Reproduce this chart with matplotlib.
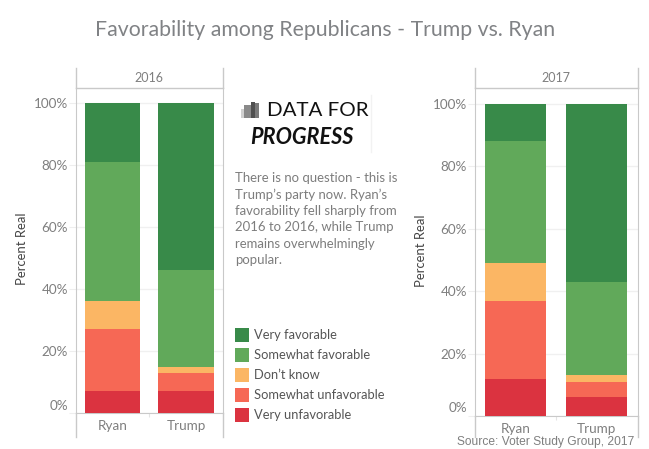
import matplotlib
matplotlib.use('Agg')
import matplotlib.pyplot as plt
from matplotlib.lines import Line2D
from matplotlib.patches import Rectangle
from matplotlib.transforms import ScaledTranslation

W, H = 649, 449

# data, percent of respondents (bottom to top of the stack)
candidates = ['Ryan', 'Trump']
very_unfav = {'2016': [7, 7], '2017': [12, 6]}
somewhat_unfav = {'2016': [20, 6], '2017': [25, 5]}
dont_know = {'2016': [9, 2], '2017': [12, 2]}
somewhat_fav = {'2016': [45, 31], '2017': [39, 30]}
very_fav = {'2016': [19, 54], '2017': [12, 57]}

series = [very_unfav, somewhat_unfav, dont_know, somewhat_fav, very_fav]
colors = ['#db3340', '#f66855', '#fbb664', '#61a95a', '#388a49']
labels = ['Very unfavorable', 'Somewhat unfavorable', "Don\u2019t know",
          'Somewhat favorable', 'Very favorable']
yticks = [0, 20, 40, 60, 80, 100]

note_lines = ['There is no question - this is', 'Trump\u2019s party now. Ryan\u2019s',
              'favorability fell sharply from', '2016 to 2016, while Trump',
              'remains overwhelmingly', 'popular.']

plt.rcParams['font.family'] = ['Lato', 'DejaVu Sans']
GREY = '#7f7f7f'
LINE = '#c9c9c9'

fig = plt.figure(figsize=(W / 100, H / 100), dpi=100)


def fx(x):
    return x / W


def fy(y):
    return 1 - y / H


def px(size):
    return size * 0.72


def ftext(x, y, s, size, color=GREY, **kw):
    kw.setdefault('va', 'center')
    fig.text(fx(x), fy(y), s, fontsize=px(size), color=color, **kw)


def fline(x0, y0, x1, y1, color=LINE, lw=1.0):
    fig.add_artist(Line2D([fx(x0), fx(x1)], [fy(y0), fy(y1)], color=color, lw=lw))


def panel(year, left, right, y100, y0, ylab_x, ylab_y):
    top = 88
    ax = fig.add_axes([fx(left), fy(y0), fx(right - left), (y0 - top) / H])
    ax.set_xlim(-0.5, 1.5)
    ax.set_ylim(0, 100 * (y0 - top) / (y0 - y100))
    bottom = [0, 0]
    for s, c in zip(series, colors):
        ax.bar([0, 1], s[year], width=0.75, bottom=bottom, color=c, zorder=3)
        bottom = [b + v for b, v in zip(bottom, s[year])]
    ax.set_yticks(yticks)
    ax.set_yticklabels([f'{t}%' for t in yticks], fontsize=px(13.5), color=GREY)
    ax.set_xticks([0.5])
    ax.set_xticklabels([])
    ax.tick_params(axis='x', length=3, color='#e4e4e4', width=0.8)
    ax.tick_params(axis='y', length=5, color='#eeeeee', width=0.8, pad=0.5)
    # the 0% label sits above its tick in the original
    lab0 = ax.get_yticklabels()[0]
    lab0.set_transform(lab0.get_transform() + ScaledTranslation(0, 8.5 / 100, fig.dpi_scale_trans))
    ax.grid(axis='y', color='#f0f0f0', lw=1, zorder=0)
    ax.set_axisbelow(True)
    ax.spines['top'].set_visible(False)
    ax.spines['right'].set_color(LINE)
    ax.spines['left'].set_color(LINE)
    ax.spines['bottom'].set_color(LINE)
    for x, name in zip([0, 1], candidates):
        ax.text(x, -13 / ((y0 - y100) / 100), name, ha='center', va='center',
                fontsize=px(13.5), color=GREY, clip_on=False)
    # facet header and the frame below the axis
    fline(left, 68, left, 88)
    fline(right, 68, right, 88)
    fline(left, 88, right, 88)
    fline(left, y0, left, 437)
    fline(right, y0, right, 437)
    ftext((left + right) / 2, 78.5, year, 12.5, ha='center')
    ftext(ylab_x, ylab_y, 'Percent Real', 13, color='#444444', rotation=90, ha='center')


panel('2016', 75.5, 223, 103, 413, 22, 248.5)
panel('2017', 474.5, 637.5, 104, 416, 421, 250.5)

ftext(325, 30.5, 'Favorability among Republicans - Trump vs. Ryan', 21.3, color='#808285', ha='center')
ftext(634, 442, 'Source: Voter Study Group, 2017', 12, family=['Liberation Sans'], ha='right')

# logo
for x0, x1, ytop, shade in [(241, 244, 109, '#d0d0d0'), (244, 251, 105, '#8a8a8a'),
                            (251, 255, 102, '#505050'), (255, 259, 103, '#7a7a7a')]:
    fig.add_artist(Rectangle((fx(x0), fy(118)), fx(x1 - x0), (118 - ytop) / H, color=shade, lw=0))
ftext(267, 110, 'DATA FOR', 20.5, color='#111111', family=['Lato'])
ftext(250, 138, 'PROGRESS', 21.7, color='#111111', family=['Lato'], fontweight='bold', style='italic')
fline(370.5, 95, 370.5, 152, color='#f2f2f2')

# annotation
for i, line in enumerate(note_lines):
    ftext(235, 178 + i * 16.4, line, 13.1, color='#7d7d7d')

# legend
for i, (c, lab) in enumerate(zip(colors[::-1], labels[::-1])):
    y = 335 + i * 20
    fig.add_artist(Rectangle((fx(235), fy(y + 7)), fx(14), 14 / H, color=c, lw=0))
    ftext(254, y, lab, 12.9, color='#555555')

fig.savefig('out.png', dpi=100)
